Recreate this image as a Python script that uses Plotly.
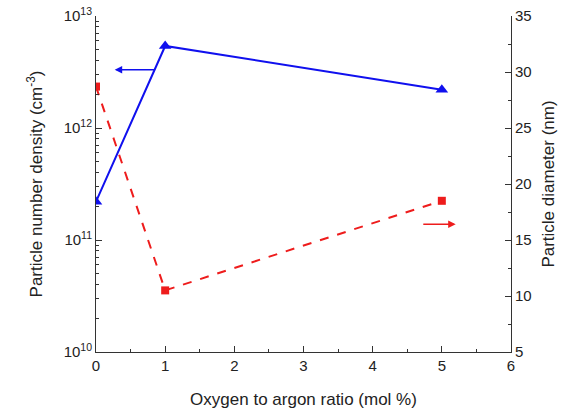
import plotly.graph_objects as go

ratio = [0, 1, 5]
density = [2.2e11, 5.4e12, 2.2e12]
diameter = [28.7, 10.5, 18.5]

log_major = [1e10, 1e11, 1e12, 1e13]
log_labels = ["10<sup>10</sup>", "10<sup>11</sup>", "10<sup>12</sup>", "10<sup>13</sup>"]
log_minor = [m * 10 ** e for e in (10, 11, 12) for m in range(2, 10)]

blue = "#1010ee"
red = "#ee1c1c"
font = "Liberation Sans, Arial, sans-serif"

fig = go.Figure()
fig.add_trace(go.Scatter(x=ratio, y=density, mode="lines+markers",
                         line=dict(color=blue, width=2),
                         marker=dict(symbol="triangle-up", size=11, color=blue),
                         yaxis="y", showlegend=False))
fig.add_trace(go.Scatter(x=ratio, y=diameter, mode="lines+markers",
                         line=dict(color=red, width=2, dash="dash"),
                         marker=dict(symbol="square", size=8, color=red),
                         yaxis="y2", showlegend=False))

# indicator arrows
fig.add_annotation(x=0.27, y=12.52, ax=0.86, ay=12.52, xref="x", yref="y",
                   axref="x", ayref="y", showarrow=True, arrowhead=2,
                   arrowsize=1, arrowwidth=1.5, arrowcolor=blue, text="")
fig.add_annotation(x=5.2, y=16.4, ax=4.71, ay=16.4, xref="x", yref="y2",
                   axref="x", ayref="y2", showarrow=True, arrowhead=2,
                   arrowsize=1, arrowwidth=1.5, arrowcolor=red, text="")

axis_common = dict(showline=True, linecolor="#333", linewidth=1, ticks="inside",
                   tickcolor="#333", ticklen=6, showgrid=False, zeroline=False,
                   automargin=False,
                   tickfont=dict(size=15, color="#222", family=font))
minor_common = dict(ticks="inside", ticklen=3, tickcolor="#333", showgrid=False)

fig.update_layout(
    width=562, height=412,
    margin=dict(l=96, r=51, t=16, b=60),
    plot_bgcolor="white", paper_bgcolor="white",
    font=dict(family=font, color="#222"),
    xaxis=dict(range=[0, 6], dtick=1, tick0=0,
               title=dict(text="Oxygen to argon ratio (mol %)", font=dict(size=17), standoff=20),
               minor=dict(dtick=0.5, **minor_common),
               **axis_common),
    yaxis=dict(type="log", range=[10, 13], tickmode="array",
               tickvals=log_major, ticktext=log_labels,
               title=dict(text="Particle number density (cm<sup>-3</sup>)", font=dict(size=17), standoff=16),
               minor=dict(tickmode="array", tickvals=log_minor, **minor_common),
               **axis_common),
    yaxis2=dict(range=[5, 35], dtick=5, overlaying="y", side="right",
                title=dict(text="Particle diameter (nm)", font=dict(size=17), standoff=11),
                minor=dict(dtick=2.5, **minor_common),
                **axis_common),
)

fig.write_html("out.html")
